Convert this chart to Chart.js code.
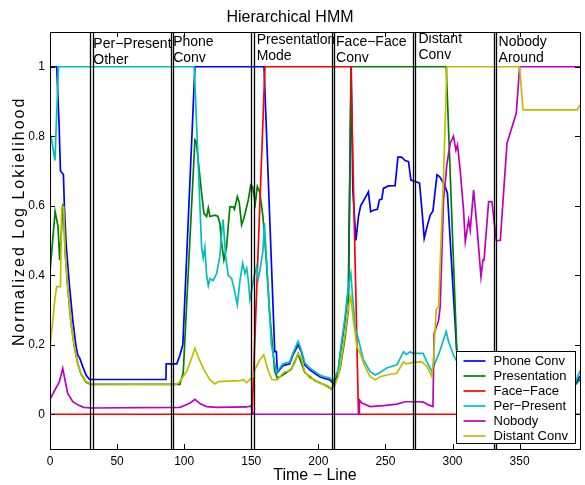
<!DOCTYPE html>
<html>
<head>
<meta charset="utf-8">
<title>Hierarchical HMM</title>
<script src="https://cdn.jsdelivr.net/npm/chart.js@4.4.1/dist/chart.umd.min.js"></script>
<style>
  html, body { margin: 0; padding: 0; background: #fff; }
  #wrap { width: 585px; height: 485px; }
</style>
</head>
<body>
<div id="wrap"><canvas id="hmm" width="585" height="485"></canvas></div>
<script>
// series (x = time line, y = normalized log likelihood)
const phoneX = [0, 5, 6.8, 7.8, 10, 10.7, 12, 14.5, 17, 19.4, 20.7, 22, 24.4, 26.9, 29.4, 86.4, 86.6, 94.5, 96.8, 99, 108, 159.5, 167.5, 168.7, 169.4, 173.6, 178.6, 181, 184.9, 187.3, 189.9, 193.6, 197.3, 201, 204.8, 208.5, 211, 214.7, 216.2, 219.9, 222.4, 224.5, 225.7, 228, 229.9, 231.5, 234.5, 237.3, 239, 241, 244, 245.5, 247.3, 248.5, 252.2, 257.2, 259.3, 262, 264.7, 267.2, 269, 272.2, 275.4, 277.2, 278.9, 281, 283.4, 285.4, 288.4, 290.3, 292.5, 294.5, 296.2, 303.3, 310, 320, 340, 360, 380, 391.5, 395];
const phoneY = [1, 1, 0.83, 0.7, 0.69, 0.6, 0.49, 0.37, 0.27, 0.195, 0.17, 0.163, 0.137, 0.113, 0.1, 0.1, 0.145, 0.145, 0.17, 0.2, 1, 1, 0.18, 0.18, 0.12, 0.14, 0.145, 0.17, 0.2, 0.18, 0.142, 0.128, 0.118, 0.108, 0.103, 0.099, 0.09, 0.12, 0.17, 0.27, 0.36, 1, 0.645, 0.5, 0.569, 0.6, 0.62, 0.64, 0.583, 0.587, 0.59, 0.617, 0.619, 0.65, 0.657, 0.658, 0.74, 0.74, 0.73, 0.727, 0.674, 0.67, 0.665, 0.588, 0.506, 0.54, 0.573, 0.585, 0.689, 0.684, 0.67, 0.655, 0.636, 0.17, 0.12, 0.1, 0.085, 0.08, 0.08, 0.085, 0.11];

const presX = [0, 3.8, 6, 7.2, 9.7, 10.2, 11.2, 13.2, 15.7, 18.2, 20.7, 23.1, 26.9, 30.6, 96.8, 99.3, 108, 109, 113, 114.7, 116.7, 118, 119.2, 122.9, 125, 126.6, 127.9, 129.6, 131.6, 132.8, 134.1, 136.6, 137.5, 139.6, 141, 142.8, 144.5, 145.5, 147.8, 149.6, 151, 153, 154.5, 156.3, 158.7, 161.2, 163.7, 167.5, 169.4, 172.4, 179.9, 184.9, 189.9, 197.3, 206, 209.7, 212.4, 216.2, 219.9, 222.4, 224.3, 295.3, 303.3, 310, 330, 360, 385, 391.5, 395];
const presY = [0.41, 0.583, 0.54, 0.444, 0.6, 0.597, 0.47, 0.365, 0.26, 0.193, 0.145, 0.116, 0.092, 0.086, 0.086, 0.12, 0.79, 0.785, 0.636, 0.578, 0.569, 0.593, 0.569, 0.573, 0.57, 0.55, 0.493, 0.444, 0.482, 0.54, 0.597, 0.597, 0.59, 0.626, 0.61, 0.545, 0.564, 0.58, 0.617, 0.66, 0.655, 0.607, 0.655, 0.64, 0.569, 0.444, 0.29, 0.123, 0.104, 0.11, 0.13, 0.173, 0.12, 0.097, 0.082, 0.073, 0.09, 0.13, 0.22, 0.3, 1, 1, 0.17, 0.12, 0.09, 0.08, 0.08, 0.085, 0.1];

const faceX = [0, 150.6, 160.2, 224.2, 229.9, 395];
const faceY = [0, 0, 1, 1, 0, 0];

const perX = [0, 0.8, 3.7, 6.3, 107.5, 113, 114.2, 115.4, 116.7, 118, 119.2, 121.6, 124.2, 126.6, 128.1, 129, 130.9, 132.8, 135.4, 137, 139.6, 141.6, 143.6, 145.3, 146.6, 147.8, 149, 150.5, 152, 154, 155.2, 156.3, 158.7, 159.8, 165, 168.7, 173.6, 178.6, 181, 184.9, 187.3, 189.9, 193.6, 197.3, 201, 204.8, 208.5, 211, 214.7, 216.2, 219.9, 222.4, 224.2, 225.7, 227.4, 229.9, 233.6, 238.6, 242.3, 246, 251, 258.5, 263.5, 265.5, 268.4, 270.5, 274.7, 278, 281, 284.6, 287, 290.8, 293.3, 295.3, 297, 300.7, 303.3, 310, 320, 340, 360, 380, 391.5, 395];
const perY = [0.8, 0.8, 0.73, 1, 1, 0.48, 0.45, 0.48, 0.4, 0.37, 0.39, 0.385, 0.405, 0.455, 0.53, 0.56, 0.455, 0.4, 0.39, 0.365, 0.315, 0.385, 0.435, 0.405, 0.42, 0.385, 0.33, 0.36, 0.395, 0.425, 0.39, 0.41, 0.47, 0.55, 0.2, 0.12, 0.145, 0.15, 0.175, 0.21, 0.185, 0.148, 0.133, 0.123, 0.113, 0.108, 0.104, 0.094, 0.127, 0.175, 0.28, 0.37, 0.405, 0.33, 0.25, 0.215, 0.156, 0.123, 0.113, 0.12, 0.133, 0.142, 0.18, 0.172, 0.18, 0.175, 0.175, 0.175, 0.15, 0.123, 0.148, 0.185, 0.215, 0.238, 0.21, 0.17, 0.152, 0.13, 0.11, 0.095, 0.09, 0.088, 0.092, 0.125];

const nobodyX = [0, 4.5, 7, 9.5, 10.7, 13.2, 17, 20.7, 25, 30.6, 96.8, 102, 105, 108, 112, 116.7, 124.2, 146.6, 149.8, 151.5, 230.4, 230.6, 232.4, 238.6, 248.5, 258.5, 264.7, 274.6, 278.4, 282, 285.4, 286.3, 289.6, 290.8, 293.3, 295.8, 298.3, 300.7, 302.5, 303.7, 305.7, 308.2, 309.5, 312, 313.2, 315.7, 318.2, 321.2, 322.7, 323.5, 326.9, 329.4, 332.6, 335.6, 340.6, 347.5, 350, 395];
const nobodyY = [0.043, 0.076, 0.094, 0.132, 0.108, 0.06, 0.036, 0.027, 0.02, 0.018, 0.02, 0.028, 0.034, 0.043, 0.03, 0.022, 0.02, 0.021, 0.024, 0, 0, 0.041, 0.032, 0.022, 0.025, 0.029, 0.036, 0.036, 0.035, 0.027, 0.022, 0.233, 0.27, 0.31, 0.617, 0.72, 0.78, 0.8, 0.76, 0.775, 0.703, 0.588, 0.497, 0.559, 0.53, 0.645, 0.54, 0.396, 0.444, 0.444, 0.612, 0.612, 0.5, 0.5, 0.78, 0.866, 1, 1];

const distantX = [0, 3.7, 5, 7.8, 8.7, 10.2, 11.2, 13.2, 15.7, 18.2, 20.7, 23.1, 26.9, 30.6, 94, 96.8, 101.8, 105.5, 108, 110.4, 114.2, 119.2, 122.9, 125.4, 136.6, 142, 144, 146.6, 149, 151.5, 152.5, 156.3, 159.3, 162.5, 165.4, 169.4, 172.4, 174.9, 177, 179.9, 182.4, 184.9, 187.3, 189.9, 193.6, 197.3, 201, 206, 209.7, 211.7, 214.7, 216.2, 219.9, 222.4, 224.2, 226.1, 228.7, 231.2, 233.6, 238.6, 242.3, 246, 251, 258.5, 263.5, 265.5, 268.4, 270.9, 277.2, 281, 284.6, 285.8, 287.8, 289.6, 293.3, 295.8, 350, 352.5, 392.9, 395];
const distantY = [0.19, 0.334, 0.367, 0.367, 0.597, 0.597, 0.473, 0.367, 0.262, 0.195, 0.147, 0.118, 0.094, 0.087, 0.086, 0.094, 0.123, 0.161, 0.19, 0.166, 0.132, 0.099, 0.087, 0.094, 0.096, 0.097, 0.1, 0.091, 0.1, 0.108, 0.127, 0.156, 0.171, 0.127, 0.1, 0.099, 0.113, 0.123, 0.123, 0.132, 0.147, 0.176, 0.161, 0.123, 0.104, 0.099, 0.089, 0.084, 0.075, 0.078, 0.108, 0.137, 0.233, 0.31, 0.338, 0.271, 0.195, 0.176, 0.147, 0.108, 0.099, 0.108, 0.113, 0.118, 0.151, 0.145, 0.147, 0.15, 0.151, 0.137, 0.108, 0.156, 0.3, 0.31, 0.69, 1, 1, 0.876, 0.876, 0.89];

const seriesNames = ['Phone Conv', 'Presentation', 'Face\u2212Face', 'Per\u2212Present', 'Nobody', 'Distant Conv'];
const seriesX = [phoneX, presX, faceX, perX, nobodyX, distantX];
const seriesY = [phoneY, presY, faceY, perY, nobodyY, distantY];

// segment boundaries (double vertical lines) and the phase names written at the top
const boundaryX = [30, 32, 90, 92, 150, 152, 210.5, 212, 270.5, 272, 331, 332.5];
const phaseNames = [['Per\u2212Present', 'Other'], ['Phone', 'Conv'], ['Presentation', 'Mode'], ['Face\u2212Face', 'Conv'], ['Distant', 'Conv'], ['Nobody', 'Around']];
const phaseX = [32.3, 91.8, 154, 213.2, 274.6, 334.3];
const phaseY = [1.055, 1.06, 1.065, 1.061, 1.068, 1.061];

const xTicks = [0, 50, 100, 150, 200, 250, 300, 350];
const yTicks = [0, 0.2, 0.4, 0.6, 0.8, 1];
const yLabel = 'Normalized Log Lokielihood';

const colors = ['#0000ff', '#008000', '#ff0000', '#00bfbf', '#bf00bf', '#bfbf00'];
const FONT = '"Liberation Sans", Arial, Helvetica, sans-serif';

const datasets = seriesNames.map((name, i) => ({
  label: name,
  data: seriesX[i].map((x, k) => ({ x: x, y: seriesY[i][k] })),
  borderColor: colors[i],
  backgroundColor: colors[i],
  borderWidth: 1.7,
  pointRadius: 0,
  tension: 0,
  fill: false,
  order: seriesNames.length - i   // later series on top, like matlab
}));

const matlabAxes = {
  id: 'matlabAxes',
  afterDatasetsDraw(chart) {
    const { ctx, chartArea: ca, scales: { x, y } } = chart;
    ctx.save();
    ctx.beginPath();
    ctx.rect(ca.left, ca.top, ca.right - ca.left, ca.bottom - ca.top);
    ctx.clip();
    // boundary lines
    ctx.strokeStyle = '#000';
    ctx.lineWidth = 1.3;
    boundaryX.forEach(v => {
      const px = Math.round(x.getPixelForValue(v)) + 0.5;
      ctx.beginPath();
      ctx.moveTo(px, ca.top);
      ctx.lineTo(px, ca.bottom);
      ctx.stroke();
    });
    // phase labels
    ctx.fillStyle = '#000';
    ctx.font = '14px ' + FONT;
    ctx.textAlign = 'left';
    ctx.textBaseline = 'alphabetic';
    phaseNames.forEach((lines, i) => {
      const px = x.getPixelForValue(phaseX[i]);
      const py = y.getPixelForValue(phaseY[i]);
      lines.forEach((t, j) => ctx.fillText(t, px, py + j * 16.3));
    });
    ctx.restore();
  },
  afterDraw(chart) {
    const { ctx, chartArea: ca, scales: { x, y } } = chart;
    ctx.save();
    ctx.strokeStyle = '#000';
    ctx.lineWidth = 1;
    ctx.strokeRect(Math.round(ca.left) + 0.5, Math.round(ca.top) + 0.5,
      Math.round(ca.right - ca.left), Math.round(ca.bottom - ca.top));
    const tl = 5;
    xTicks.forEach(v => {
      const px = Math.round(x.getPixelForValue(v)) + 0.5;
      ctx.beginPath();
      ctx.moveTo(px, ca.bottom); ctx.lineTo(px, ca.bottom - tl);
      ctx.moveTo(px, ca.top); ctx.lineTo(px, ca.top + tl);
      ctx.stroke();
    });
    yTicks.forEach(v => {
      const py = Math.round(y.getPixelForValue(v)) + 0.5;
      ctx.beginPath();
      ctx.moveTo(ca.left, py); ctx.lineTo(ca.left + tl, py);
      ctx.moveTo(ca.right, py); ctx.lineTo(ca.right - tl, py);
      ctx.stroke();
    });

    // y axis label, spaced out like the original
    ctx.save();
    ctx.translate(20, y.getPixelForValue(0.555));
    ctx.rotate(-Math.PI / 2);
    ctx.font = '16px ' + FONT;
    ctx.letterSpacing = '2px';
    ctx.fillStyle = '#000';
    ctx.textAlign = 'center';
    ctx.textBaseline = 'middle';
    ctx.fillText(yLabel, 0, 0);
    ctx.restore();

    // legend box inside the axes, bottom right
    const boxW = 119, boxH = 92;
    const x0 = Math.round(ca.right - 5 - boxW) + 0.5;
    const y0 = Math.round(ca.bottom - 6 - boxH) + 0.5;
    ctx.fillStyle = '#fff';
    ctx.fillRect(x0, y0, boxW, boxH);
    ctx.strokeRect(x0, y0, boxW, boxH);
    ctx.font = '13px ' + FONT;
    ctx.textBaseline = 'middle';
    ctx.textAlign = 'left';
    seriesNames.forEach((name, i) => {
      const ry = y0 + 9.5 + i * 15;
      ctx.strokeStyle = colors[i];
      ctx.lineWidth = 1.7;
      ctx.beginPath();
      ctx.moveTo(x0 + 7, ry); ctx.lineTo(x0 + 29, ry);
      ctx.stroke();
      ctx.fillStyle = '#000';
      ctx.fillText(name, x0 + 37, ry + 0.5);
    });
    ctx.restore();
  }
};

new Chart(document.getElementById('hmm'), {
  type: 'line',
  data: { datasets },
  options: {
    responsive: false,
    animation: false,
    devicePixelRatio: 1,
    layout: { padding: { left: 0, right: 5, top: 0, bottom: 0 } },
    plugins: {
      legend: { display: false },
      tooltip: { enabled: false },
      title: {
        display: true,
        text: 'Hierarchical HMM',
        color: '#000',
        font: { family: FONT, size: 16, weight: 'normal' },
        padding: { top: 8, bottom: 4.8 }
      }
    },
    scales: {
      x: {
        type: 'linear',
        min: 0,
        max: 395,
        afterBuildTicks: s => { s.ticks = xTicks.map(v => ({ value: v })); },
        afterFit: s => { s.height = 36; },
        grid: { display: false, drawTicks: false },
        border: { display: false },
        ticks: { color: '#000', font: { family: FONT, size: 12 }, padding: 5, maxRotation: 0 },
        title: {
          display: true,
          text: 'Time \u2212 Line',
          color: '#000',
          font: { family: FONT, size: 16 },
          padding: { top: 0, bottom: 0 }
        }
      },
      y: {
        min: -0.1,
        max: 1.1,
        afterBuildTicks: s => { s.ticks = yTicks.map(v => ({ value: v })); },
        afterFit: s => { s.width = 50; },
        grid: { display: false, drawTicks: false },
        border: { display: false },
        ticks: {
          color: '#000',
          font: { family: FONT, size: 12 },
          padding: 5,
          callback: v => String(+v.toFixed(1))
        },
        title: { display: false }
      }
    }
  },
  plugins: [matlabAxes]
});
</script>
</body>
</html>
